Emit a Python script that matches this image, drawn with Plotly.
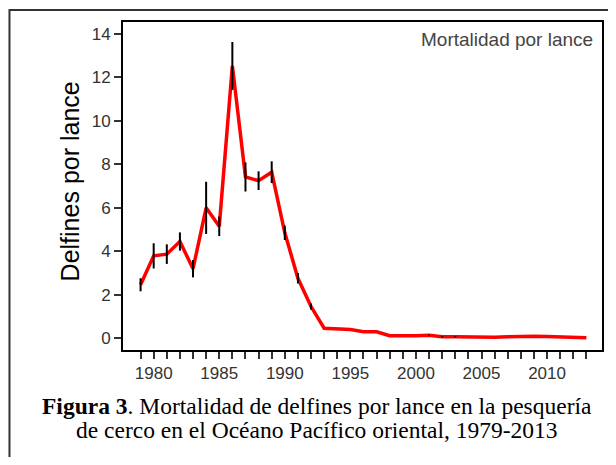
import plotly.graph_objects as go

# Dolphin mortality per set, 1979-2013
years = list(range(1979, 2014))
mortality = [2.46, 3.79, 3.87, 4.45, 3.20, 6.00, 5.15, 12.53, 7.42, 7.25, 7.64, 4.85, 2.76, 1.46,
             0.46, 0.45, 0.40, 0.30, 0.30, 0.12, 0.10, 0.11, 0.14, 0.07, 0.07, 0.06, 0.04, 0.05,
             0.07, 0.10, 0.09, 0.08, 0.07, 0.05, 0.02]
error = [0.30, 0.58, 0.45, 0.42, 0.40, 1.20, 0.45, 1.10, 0.67, 0.43, 0.50, 0.33, 0.24, 0.14,
         0, 0, 0, 0, 0, 0, 0, 0, 0.03, 0.03, 0.03, 0, 0, 0,
         0, 0, 0, 0, 0, 0, 0]
x_ticktext = [str(y) if y % 5 == 0 else '' for y in years]
y_ticks = [0, 2, 4, 6, 8, 10, 12, 14]

narrow = 'Liberation Sans Narrow, Arial Narrow, Liberation Sans, sans-serif'
serif = 'Liberation Serif, Times New Roman, serif'

fig = go.Figure()

# red line
fig.add_trace(go.Scatter(
    x=years, y=mortality, mode='lines',
    line=dict(color='#ff0000', width=3.5),
    showlegend=False, hoverinfo='skip'
))

# black error bars on top of the line
fig.add_trace(go.Scatter(
    x=years, y=mortality, mode='markers',
    marker=dict(size=1, color='rgba(0,0,0,0)'),
    error_y=dict(type='data', array=error, visible=True, color='black', thickness=2, width=0),
    showlegend=False
))

# page body adds an 8px margin, so the figure is sized to fit inside it
fig.update_layout(
    width=600, height=449,
    margin=dict(l=115, r=4, t=14, b=107),
    paper_bgcolor='white', plot_bgcolor='white',
    xaxis=dict(
        range=[1977.66, 2014.19],
        tickvals=years, ticktext=x_ticktext,
        ticks='outside', ticklen=7, tickwidth=1.5, tickcolor='#333',
        showline=True, linecolor='black', linewidth=2, mirror=True,
        showgrid=False, zeroline=False,
        tickfont=dict(family=narrow, size=17, color='#333')
    ),
    yaxis=dict(
        range=[-0.54, 14.55],
        tickvals=y_ticks,
        ticks='outside', ticklen=7, tickwidth=1.5, tickcolor='#333',
        showline=True, linecolor='black', linewidth=2, mirror=True,
        showgrid=False, zeroline=False,
        tickfont=dict(family=narrow, size=17, color='#333')
    ),
    shapes=[dict(
        type='rect', xref='paper', yref='paper',
        x0=-0.237, x1=1.03, y0=-0.37, y1=1.0366,
        line=dict(color='#333', width=2)
    )],
    annotations=[
        dict(text='Delfines por lance', x=-0.110, y=0.515, xref='paper', yref='paper',
             xanchor='center', yanchor='middle', showarrow=False, textangle=-90,
             font=dict(family='Liberation Sans, Arial, sans-serif', size=25, color='black')),
        dict(text='Mortalidad por lance', x=0.9855, y=0.948, xref='paper', yref='paper',
             xanchor='right', yanchor='middle', showarrow=False,
             font=dict(family='Liberation Sans, Arial, sans-serif', size=19, color='#444')),
        dict(text='<b>Figura 3</b>. Mortalidad de delfines por lance en la pesquería',
             x=0.405, y=-0.171, xref='paper', yref='paper', xanchor='center', yanchor='middle',
             showarrow=False, font=dict(family=serif, size=23.5, color='black')),
        dict(text='de cerco en el Océano Pacífico oriental, 1979-2013',
             x=0.405, y=-0.244, xref='paper', yref='paper', xanchor='center', yanchor='middle',
             showarrow=False, font=dict(family=serif, size=23.5, color='black')),
    ]
)

fig.write_html("out.html")
